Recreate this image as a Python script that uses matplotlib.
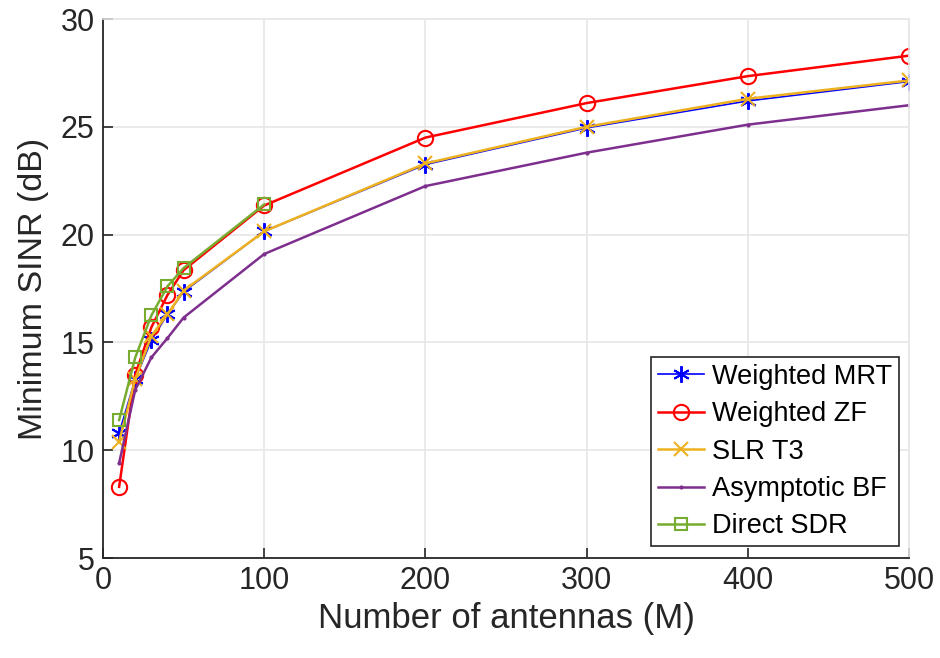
import matplotlib.pyplot as plt

plt.rcParams['font.family'] = ['Liberation Sans', 'DejaVu Sans']

M_small = [10, 20, 30, 40, 50, 100]
M_all = [10, 20, 30, 40, 50, 100, 200, 300, 400, 500]

mrt = [10.8, 13.3, 15.1, 16.3, 17.35, 20.15, 23.25, 24.95, 26.2, 27.1]
zf = [8.3, 13.5, 15.7, 17.2, 18.35, 21.35, 24.5, 26.1, 27.35, 28.3]
slr = [10.4, 13.3, 15.3, 16.3, 17.4, 20.15, 23.3, 25.0, 26.3, 27.15]
asym = [9.4, 12.8, 14.3, 15.2, 16.15, 19.1, 22.25, 23.8, 25.1, 26.0]
sdr = [11.4, 14.3, 16.25, 17.6, 18.45, 21.4]

fig = plt.figure(figsize=(9.4, 6.58), dpi=100)
ax = fig.add_axes([103 / 940, 1 - 558 / 658, 806 / 940, 539 / 658])

# matlab style asterisk marker
ax.plot(M_all, mrt, color='#0000FF', marker=(6, 2, 0), markersize=12, mew=1.4, lw=1.2, label='Weighted MRT')
ax.plot(M_all, zf, color='#FF0000', marker='o', markersize=11, mfc='none', mew=1.5, lw=1.8, label='Weighted ZF')
ax.plot(M_all, slr, color='#EDB120', marker='x', markersize=10, mew=1.5, lw=1.8, label='SLR T3')
ax.plot(M_all, asym, color='#7E2F8E', marker='.', markersize=4, lw=1.8, label='Asymptotic BF')
ax.plot(M_small, sdr, color='#77AC30', marker='s', markersize=9, mfc='none', mew=1.5, lw=1.8, label='Direct SDR')

ax.set_xlim(0, 500)
ax.set_ylim(5, 30)
ax.set_xticks([0, 100, 200, 300, 400, 500])
ax.set_yticks([5, 10, 15, 20, 25, 30])
ax.grid(True, color='#e6e6e6', lw=1.2)
ax.set_axisbelow(True)
ax.tick_params(direction='in', labelsize=22, length=7, width=1.2, color='#262626', labelcolor='#262626', pad=6)
for side in ['left', 'bottom']:
    ax.spines[side].set_color('#262626')
    ax.spines[side].set_linewidth(1.3)
for side in ['top', 'right']:
    ax.spines[side].set_color('#e6e6e6')
    ax.spines[side].set_linewidth(1.2)
ax.set_xlabel('Number of antennas (M)', fontsize=25, color='#262626', labelpad=4)
ax.set_ylabel('Minimum SINR (dB)', fontsize=24.5, color='#262626', labelpad=8)

leg = ax.legend(loc='lower right', fontsize=19.5, fancybox=False, edgecolor='#262626', framealpha=1,
                handlelength=1.7, borderpad=0.25, labelspacing=0.42, handletextpad=0.3,
                borderaxespad=0, bbox_to_anchor=(0.9876, 0.022))
leg.get_frame().set_linewidth(1.2)

fig.savefig('out.png', dpi=100)
